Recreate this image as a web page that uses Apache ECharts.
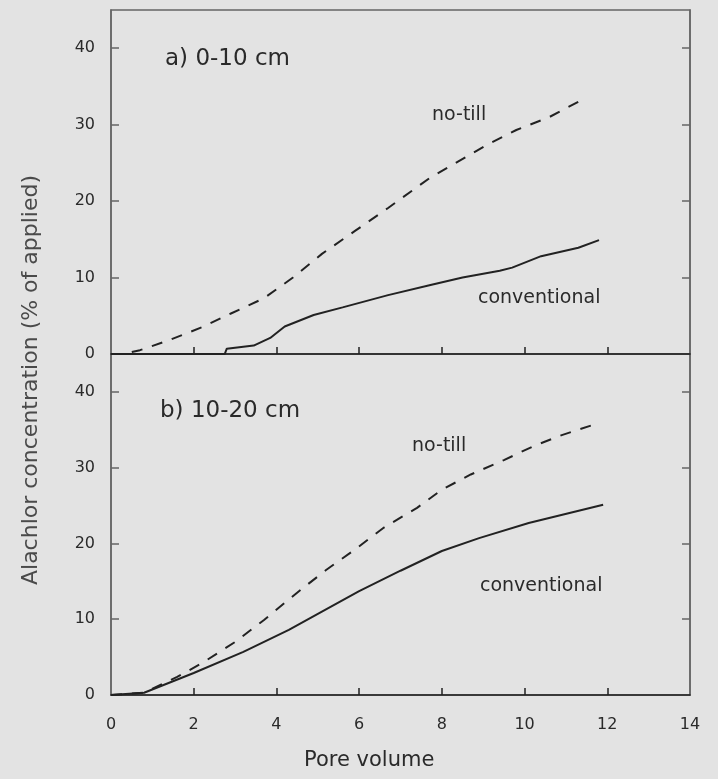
<!DOCTYPE html>
<html>
<head>
<meta charset="utf-8">
<script src="https://cdn.jsdelivr.net/npm/echarts@6/dist/echarts.min.js"></script>
<style>
  html, body { margin: 0; padding: 0; background: #e3e3e3; }
  #chart { width: 718px; height: 779px; }
</style>
</head>
<body>
<div id="chart"></div>
<script>
// data: [pore volume, % of applied]
var xTicks = [0, 2, 4, 6, 8, 10, 12, 14];
var yTicks = [0, 10, 20, 30, 40];
var noTillA = [[0, 0], [0.3, 0], [0.7, 0.5], [1.4, 1.8], [2.2, 3.5], [2.9, 5.3], [3.7, 7.3], [4.4, 10], [5.1, 13.1],
    [5.9, 16.1], [6.7, 19.1], [7.7, 23], [8.4, 25.2], [9.1, 27.4], [9.8, 29.3], [10.6, 31], [11.3, 33], [11.5, 33.6]];
var convA = [[0, 0], [2.75, 0], [2.8, 0.7], [3.45, 1.1], [3.85, 2.1], [4.2, 3.6], [4.9, 5.1], [5.6, 6.1], [6.7, 7.7],
    [7.7, 9.0], [8.5, 10.0], [9.4, 10.9], [9.7, 11.3], [10.4, 12.8], [11.3, 13.9], [11.8, 14.9]];
var noTillB = [[0, 0], [0.8, 0.3], [1.6, 2.4], [2.2, 4.2], [3.0, 7.0], [3.7, 9.9], [4.5, 13.5], [5.2, 16.5], [5.9, 19.2],
    [6.6, 22.1], [7.4, 24.7], [8.0, 27.1], [8.7, 29.1], [9.5, 31.0], [10.2, 32.8], [10.9, 34.3], [11.8, 35.9]];
var convB = [[0, 0], [0.8, 0.3], [2.0, 2.9], [3.2, 5.7], [4.3, 8.6], [5.1, 11.0], [6.0, 13.7], [7.0, 16.4], [8.0, 19.0],
    [8.9, 20.7], [10.1, 22.7], [11.9, 25.1]];

(function() {
    var myChart = echarts.init(document.getElementById('chart'));
    var ink = '#222';
    var frame = '#666';
    var font = 'DejaVu Sans';

    function xAxis(idx, labels) {
        return {
            type: 'value', gridIndex: idx, min: 0, max: 14, interval: 2,
            splitLine: { show: false },
            axisLine: { lineStyle: { color: ink, width: 1.5 } },
            axisTick: { inside: true, length: 7, customValues: xTicks.slice(1, -1), lineStyle: { color: ink, width: 1.5 } },
            axisLabel: { show: labels, margin: 22, customValues: xTicks, color: '#2a2a2a', fontSize: 16, fontFamily: font }
        };
    }
    function yAxis(idx, pos) {
        return {
            type: 'value', gridIndex: idx, position: pos, min: 0, max: 45, interval: 10,
            splitLine: { show: false },
            axisLine: { lineStyle: { color: frame, width: 1.5 } },
            axisTick: { inside: true, length: 8, customValues: yTicks.slice(1), lineStyle: { color: frame, width: 1.5 } },
            axisLabel: { show: pos === 'left', margin: 16, customValues: yTicks, color: '#2a2a2a', fontSize: 16, fontFamily: font }
        };
    }
    function line(name, data, idx, dashed) {
        return {
            name: name, type: 'line', xAxisIndex: idx, yAxisIndex: idx * 2,
            data: data, symbol: 'none', smooth: false,
            lineStyle: { color: ink, width: 2, type: dashed ? [11, 10] : 'solid' }
        };
    }
    function txt(x, y, s, size) {
        return {
            type: 'text', left: x, top: y,
            style: { text: s, fill: '#2a2a2a', font: size + 'px "' + font + '"' }
        };
    }

    var option = {
        animation: false,
        backgroundColor: '#e3e3e3',
        grid: [
            { left: 111, top: 10, width: 579, height: 344, show: true, borderColor: frame, borderWidth: 1.5 },
            { left: 111, top: 354, width: 579, height: 341, show: true, borderColor: frame, borderWidth: 1.5 }
        ],
        xAxis: [xAxis(0, false), xAxis(1, true)],
        yAxis: [yAxis(0, 'left'), yAxis(0, 'right'), yAxis(1, 'left'), yAxis(1, 'right')],
        series: [
            line('no-till', noTillA, 0, true),
            line('conventional', convA, 0, false),
            line('no-till', noTillB, 1, true),
            line('conventional', convB, 1, false)
        ],
        graphic: [
            txt(165, 48, 'a) 0-10 cm', 23),
            txt(432, 106, 'no-till', 19),
            txt(478, 289, 'conventional', 19),
            txt(160, 400, 'b) 10-20 cm', 23),
            txt(412, 437, 'no-till', 19),
            txt(480, 577, 'conventional', 19),
            {
                type: 'text', left: 304, top: 750,
                style: { text: 'Pore volume', fill: '#2a2a2a', font: '21px "' + font + '"' }
            },
            {
                type: 'text', x: 31, y: 380, rotation: Math.PI / 2,
                style: {
                    text: 'Alachlor concentration (% of applied)', fill: '#4a4a4a',
                    font: '22px "' + font + '"', textAlign: 'center', textVerticalAlign: 'middle'
                }
            }
        ]
    };
    myChart.setOption(option);
    window.addEventListener('resize', function() {
        myChart.resize();
    });
})();
</script>
</body>
</html>
